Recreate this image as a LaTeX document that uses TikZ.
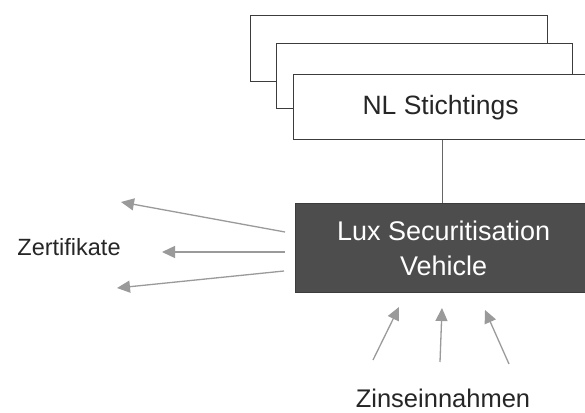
\documentclass[tikz,border=0pt]{standalone}
\usepackage{fontspec}
\setmainfont{Liberation Sans}
\usetikzlibrary{arrows.meta}
\definecolor{boxline}{HTML}{3C3C3C}
\definecolor{darkfill}{HTML}{4D4D4D}
\definecolor{arrowgray}{HTML}{9A9A9A}
\tikzset{
  paper/.style={draw=boxline, line width=1.3pt, fill=white, anchor=north west, inner sep=0pt},
  darkbox/.style={draw=boxline, line width=1.3pt, fill=darkfill, text=white, anchor=north west, inner sep=0pt, align=center, font=\fontsize{27}{35}\selectfont},
  flow/.style={draw=arrowgray, line width=1.3pt, -{Triangle[length=13pt,width=12pt]}, arrowgray},
  label/.style={inner sep=0pt, text=black!85}
}
\begin{document}
\begin{tikzpicture}[x=1pt,y=-1pt]
\useasboundingbox (0,0) rectangle (585,412);
\clip (0,0) rectangle (585,412);
\fill[white] (0,0) rectangle (585,412);
% stacked papers
\node[paper, minimum width=297pt, minimum height=66pt] (back) at (250,15) {};
\node[paper, minimum width=296pt, minimum height=65pt] (middle) at (276,43) {};
\node[paper, minimum width=294pt, minimum height=65pt, font=\fontsize{26.5}{30}\selectfont, text=black!85] (front) at (293,74) {NL Stichtings};
% dark vehicle box
\node[darkbox, minimum width=296pt, minimum height=89pt] (vehicle) at (295,203) {Lux Securitisation\\Vehicle};
% connector
\draw[draw=gray!80!black, line width=1pt] ([xshift=2pt]front.south) -- ([xshift=2pt]front.south |- vehicle.north);
% left arrows
\coordinate (l1s) at (285,232);
\coordinate (l1e) at (121,202);
\coordinate (l2s) at (285,252);
\coordinate (l2e) at (162,252);
\coordinate (l3s) at (284,271);
\coordinate (l3e) at (117,288);
\draw[flow] (l1s) -- (l1e);
\draw[flow] (l2s) -- (l2e);
\draw[flow] (l3s) -- (l3e);
\node[label, font=\fontsize{23.5}{28}\selectfont] (zert) at (69,247) {Zertifikate};
% bottom arrows
\coordinate (b1s) at (373,360);
\coordinate (b1e) at (399,307);
\coordinate (b2s) at (440,362);
\coordinate (b2e) at (442,308);
\coordinate (b3s) at (509,364);
\coordinate (b3e) at (485,310);
\draw[flow] (b1s) -- (b1e);
\draw[flow] (b2s) -- (b2e);
\draw[flow] (b3s) -- (b3e);
\node[label, font=\fontsize{25.5}{30}\selectfont] (zins) at (443,398) {Zinseinnahmen};
\end{tikzpicture}
\end{document}
